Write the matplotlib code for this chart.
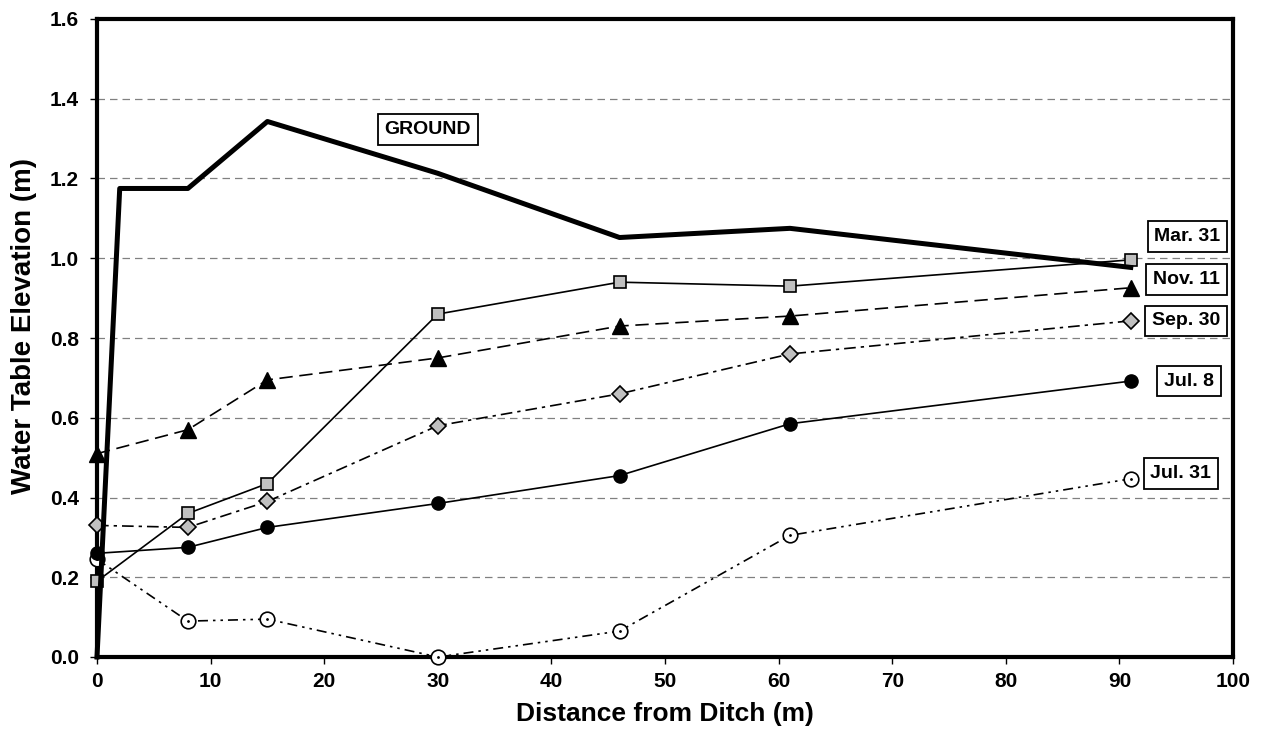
import matplotlib
matplotlib.use("Agg")
import matplotlib.pyplot as plt

plt.rcParams["font.family"] = ["Liberation Sans", "DejaVu Sans"]
plt.rcParams["font.weight"] = "bold"

# distances (m)
x_ground = [0, 2, 8, 15, 30, 46, 61, 91]
ground = [0.0, 1.175, 1.175, 1.343, 1.213, 1.052, 1.075, 0.977]

x_wells = [0, 8, 15, 30, 46, 61, 91]
mar31 = [0.19, 0.36, 0.435, 0.86, 0.94, 0.93, 0.996]
nov11 = [0.51, 0.57, 0.695, 0.75, 0.83, 0.855, 0.926]
sep30 = [0.33, 0.325, 0.39, 0.58, 0.66, 0.76, 0.843]
jul8 = [0.26, 0.275, 0.325, 0.385, 0.455, 0.585, 0.692]
jul31 = [0.245, 0.09, 0.095, 0.0, 0.065, 0.305, 0.447]

# label text, x, y
labels = ["GROUND", "Mar. 31", "Nov. 11", "Sep. 30", "Jul. 8", "Jul. 31"]
label_x = [29.1, 96.0, 95.9, 95.9, 96.1, 95.4]
label_y = [1.323, 1.055, 0.946, 0.843, 0.692, 0.46]

fig = plt.figure(figsize=(12.67, 7.33), dpi=100)
ax = fig.add_axes([97/1267, 1 - 657/733, (1233-97)/1267, (657-19)/733])

ax.plot(x_wells, jul31, color="black", lw=1.2, dashes=(6, 3, 1.5, 3, 1.5, 3),
        marker="o", ms=10.5, mfc="white", mec="black", mew=1.2, zorder=3, clip_on=False)
ax.plot(x_wells, jul31, ls="none", marker=".", ms=2, color="black", zorder=4, clip_on=False)
ax.plot(x_wells, jul8, color="black", lw=1.2, marker="o", ms=9.5, zorder=3, clip_on=False)
ax.plot(x_wells, sep30, color="black", lw=1.2, dashes=(7, 3, 2, 3),
        marker="D", ms=8.5, mfc="#c0c0c0", mec="black", mew=1.2, zorder=3, clip_on=False)
ax.plot(x_wells, nov11, color="black", lw=1.2, dashes=(8, 4),
        marker="^", ms=11, mfc="black", mec="black", zorder=3, clip_on=False)
ax.plot(x_wells, mar31, color="black", lw=1.2,
        marker="s", ms=8.5, mfc="#c0c0c0", mec="black", mew=1.2, zorder=3, clip_on=False)
ax.plot(x_ground, ground, color="black", lw=3.6, zorder=5, clip_on=False)

box = dict(boxstyle="square,pad=0.35", fc="white", ec="black", lw=1.3)
for txt, lx, ly in zip(labels, label_x, label_y):
    ax.text(lx, ly, txt, fontsize=14, fontweight="bold", ha="center", va="center",
            bbox=box, zorder=6)

ax.set_xlim(0, 100)
ax.set_ylim(0, 1.6)
ax.set_xticks(range(0, 101, 10))
ax.set_yticks([i * 0.2 for i in range(9)])
ax.set_yticklabels(["%.1f" % (i * 0.2) for i in range(9)])
ax.yaxis.grid(True, ls=(0, (6, 4)), color="#808080", lw=0.9)
ax.set_axisbelow(True)
ax.tick_params(labelsize=15, width=1, length=5, direction="out")
ax.tick_params(axis="x", pad=6)
ax.tick_params(axis="y", pad=8)
for lab in ax.get_xticklabels() + ax.get_yticklabels():
    lab.set_fontweight("bold")
for s in ax.spines.values():
    s.set_linewidth(3)

ax.set_xlabel("Distance from Ditch (m)", fontsize=19, fontweight="bold", labelpad=8)
ax.set_ylabel("Water Table Elevation (m)", fontsize=20, fontweight="bold")
ax.yaxis.set_label_coords(-60/1136, 0.519)

fig.savefig("out.png", dpi=100)
